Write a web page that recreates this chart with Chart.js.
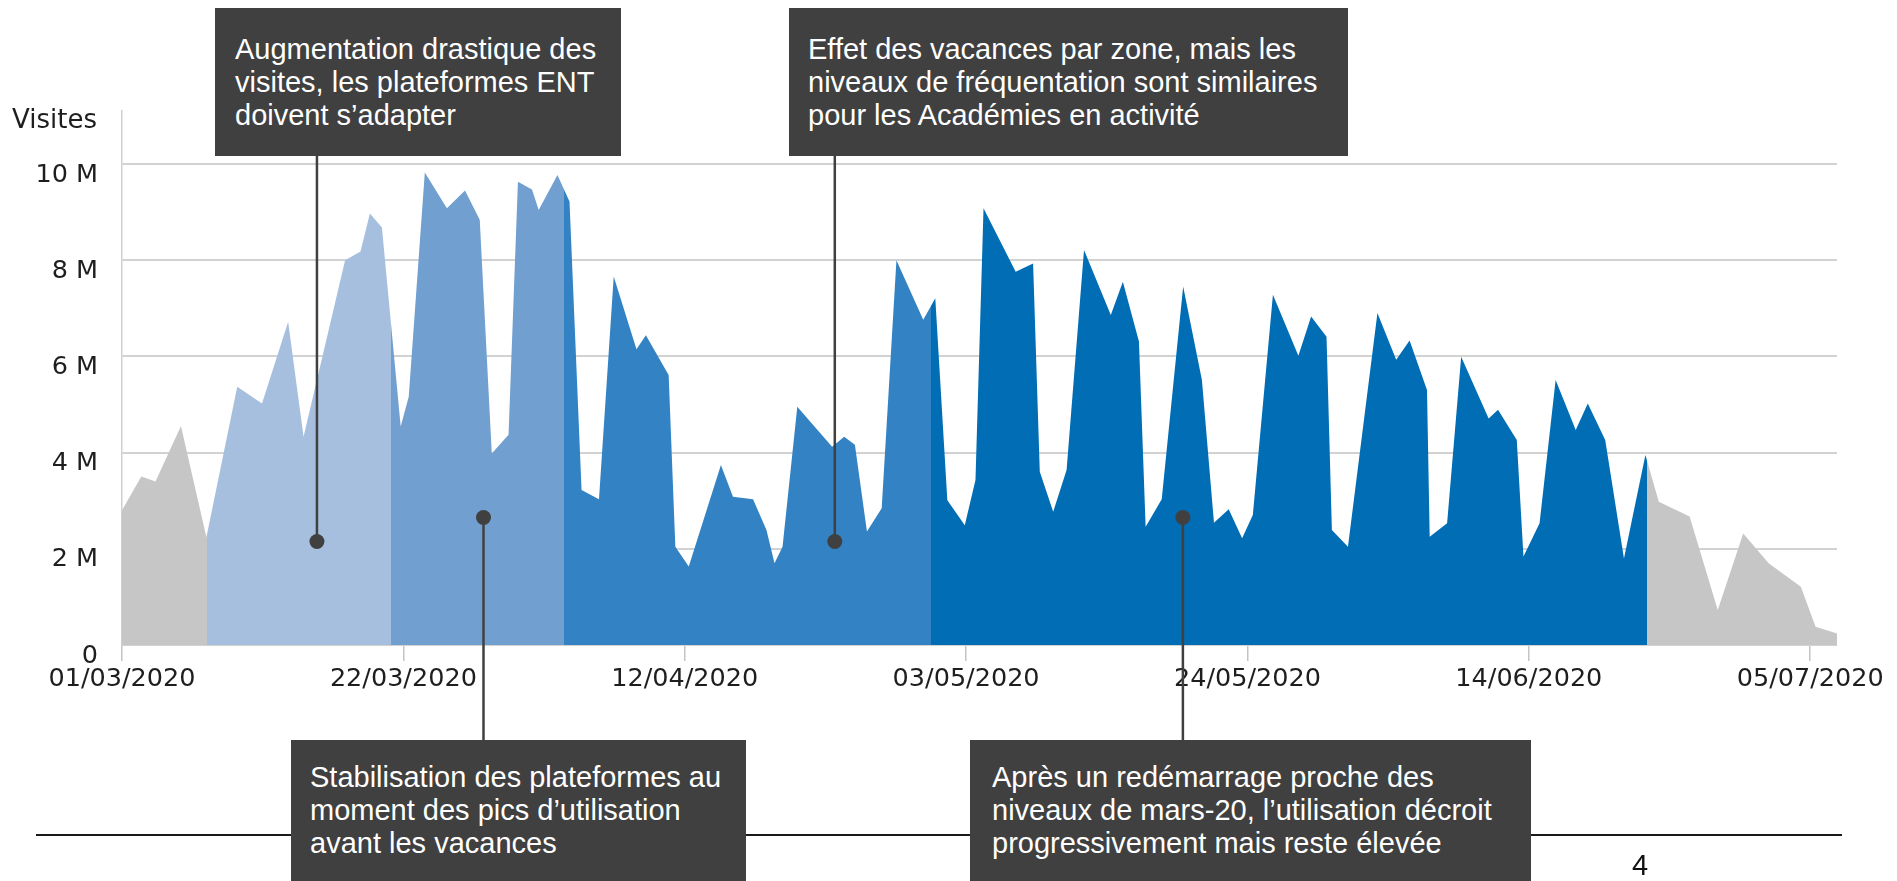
<!DOCTYPE html>
<html lang="fr">
<head>
<meta charset="utf-8">
<title>Visites ENT</title>
<script src="https://cdn.jsdelivr.net/npm/chart.js@4.4.1/dist/chart.umd.min.js"></script>
<style>
  html, body { margin: 0; padding: 0; background: #fff; }
  body { width: 1897px; height: 881px; position: relative; overflow: hidden; }
  #chart { position: absolute; left: 0; top: 0; z-index: 0; }
  .note {
    position: absolute; z-index: 2; box-sizing: border-box;
    background: #404040; color: #fff; white-space: nowrap;
    font-family: 'Liberation Sans', Arial, sans-serif; font-size: 29px; line-height: 33px;
  }
  #n1 { left: 215px; top: 8px; width: 406px; height: 148px; padding: 25px 0 0 20px; }
  #n2 { left: 789px; top: 8px; width: 559px; height: 148px; padding: 25px 0 0 19px; }
  #n3 { left: 291px; top: 740px; width: 455px; height: 160px; padding: 21px 0 0 19px; }
  #n4 { left: 970px; top: 740px; width: 561px; height: 160px; padding: 21px 0 0 22px; }
  #ytitle {
    position: absolute; left: 12px; top: 106px; z-index: 1;
    font-family: 'DejaVu Sans', sans-serif; font-size: 26px; line-height: 1; color: #1e1e1e;
  }
  #rule { position: absolute; left: 36px; top: 834px; width: 1806px; height: 2px; background: #1a1a1a; z-index: 1; }
  #page {
    position: absolute; left: 1632px; top: 851px; z-index: 1;
    font-family: 'Liberation Sans', Arial, sans-serif; font-size: 29px; line-height: 1; color: #111;
  }
</style>
</head>
<body>
<canvas id="chart" width="1897" height="881"></canvas>
<div id="ytitle">Visites</div>
<div id="rule"></div>
<div class="note" id="n1">Augmentation drastique des<br>visites, les plateformes ENT<br>doivent s’adapter</div>
<div class="note" id="n2">Effet des vacances par zone, mais les<br>niveaux de fréquentation sont similaires<br>pour les Académies en activité</div>
<div class="note" id="n3">Stabilisation des plateformes au<br>moment des pics d’utilisation<br>avant les vacances</div>
<div class="note" id="n4">Après un redémarrage proche des<br>niveaux de mars-20, l’utilisation décroit<br>progressivement mais reste élevée</div>
<div id="page">4</div>
<script>
// days since 01/03/2020 at each kink of the outline
const days = [
  0, 1.44, 2.5, 4.4, 6.3,
  8.6, 10.45, 12.4, 13.55, 16.65, 17.8, 18.5, 19.4, 20.8,
  21.4, 22.6, 24.25, 25.6, 26.7, 27.6, 28.85, 29.55, 30.6, 31.1, 32.5, 33.4,
  34.3, 35.6, 36.7, 38.4, 39.1, 40.8, 41.3, 42.3, 44.7, 45.6, 47.1, 48.1, 48.7, 49.3,
  50.4, 53.0, 53.9, 54.7, 55.6, 56.7, 57.8, 59.8, 60.7,
  61.6, 62.9, 63.7, 64.3, 66.7, 68.0, 68.5, 69.5, 70.5, 71.8, 73.8, 74.7, 75.9, 76.4,
  77.6, 79.2, 80.6, 81.5, 82.6, 83.6, 84.4, 85.9, 87.8, 88.75, 89.9, 90.3, 91.5,
  93.7, 95.1, 96.1, 97.4, 97.6, 98.9, 99.95, 102.0, 102.7, 104.1, 104.6, 105.8,
  107.0, 108.5, 109.4, 110.7, 112.1, 113.7,
  114.7, 117.0, 119.1, 121.0, 122.9, 125.3, 126.4, 128.0
];
// visits, in millions
const visits = [
  2.80, 3.50, 3.40, 4.55, 2.24,
  5.37, 5.02, 6.72, 4.33, 8.00, 8.18, 8.97, 8.68, 4.54,
  5.16, 9.82, 9.08, 9.45, 8.84, 3.98, 4.37, 9.63, 9.47, 9.04, 9.77, 9.22,
  3.22, 3.03, 7.66, 6.15, 6.44, 5.61, 2.04, 1.63, 3.74, 3.08, 3.03, 2.39, 1.70, 2.04,
  4.95, 4.12, 4.33, 4.16, 2.36, 2.84, 8.00, 6.76, 7.21,
  3.01, 2.49, 3.43, 9.08, 7.76, 7.93, 3.60, 2.77, 3.64, 8.21, 6.86, 7.55, 6.31, 2.46,
  3.03, 7.45, 5.51, 2.54, 2.82, 2.22, 2.70, 7.28, 6.01, 6.83, 6.41, 2.39, 2.04,
  6.90, 5.93, 6.33, 5.30, 2.25, 2.53, 5.99, 4.71, 4.89, 4.26, 1.84, 2.53,
  5.51, 4.47, 5.02, 4.26, 1.80, 3.95,
  2.98, 2.67, 0.73, 2.32, 1.70, 1.21, 0.38, 0.24
];
const tickDays = [0, 21, 42, 63, 84, 105, 126];
const tickLabels = ['01/03/2020', '22/03/2020', '12/04/2020', '03/05/2020', '24/05/2020', '14/06/2020', '05/07/2020'];
const yTicks = [0, 2, 4, 6, 8, 10];
// periods (end day of each coloured section)
const sectionEnds = [6.35, 20.1, 33.0, 60.4, 113.8];
// annotation anchors
const noteDays = [14.55, 26.98, 53.2, 79.18];
const noteValues = [2.15, 2.65, 2.15, 2.65];
const noteIds = ['n1', 'n3', 'n2', 'n4'];

const sectionColors = ['#c6c6c6', '#a7bfdf', '#709fd0', '#3383c4', '#006db4', '#c6c6c6'];

function sectionFill(context) {
    const chart = context.chart;
    const area = chart.chartArea;
    if (!area) return sectionColors[0];
    const xs = chart.scales.x;
    const w = area.right - area.left;
    const g = chart.ctx.createLinearGradient(area.left, 0, area.right, 0);
    let prev = 0;
    sectionEnds.forEach((end, i) => {
        const p = Math.min(Math.max((xs.getPixelForValue(end) - area.left) / w, 0), 1);
        g.addColorStop(prev, sectionColors[i]);
        g.addColorStop(p, sectionColors[i]);
        prev = p;
    });
    const last = sectionColors[sectionColors.length - 1];
    g.addColorStop(prev, last);
    g.addColorStop(1, last);
    return g;
}

function boxEdge(id) {
    const el = document.getElementById(id);
    return el.offsetTop > 400 ? el.offsetTop : el.offsetTop + el.offsetHeight;
}

const leaderPlugin = {
    id: 'leaders',
    afterDatasetsDraw(chart) {
        const { ctx, scales: { x, y } } = chart;
        ctx.save();
        ctx.strokeStyle = '#404040';
        ctx.fillStyle = '#404040';
        ctx.lineWidth = 2.5;
        noteDays.forEach((d, i) => {
            const px = x.getPixelForValue(d);
            const py = y.getPixelForValue(noteValues[i]);
            ctx.beginPath();
            ctx.moveTo(px, py);
            ctx.lineTo(px, boxEdge(noteIds[i]));
            ctx.stroke();
            ctx.beginPath();
            ctx.arc(px, py, 7.5, 0, Math.PI * 2);
            ctx.fill();
        });
        ctx.restore();
    }
};

Chart.defaults.font.family = "'DejaVu Sans', sans-serif";

new Chart(document.getElementById('chart').getContext('2d'), {
    type: 'line',
    data: {
        datasets: [{
            data: days.map((d, i) => ({ x: d, y: visits[i] })),
            fill: 'origin',
            backgroundColor: sectionFill,
            borderColor: 'rgba(0,0,0,0)',
            borderWidth: 0,
            pointRadius: 0,
            tension: 0
        }]
    },
    options: {
        responsive: false,
        animation: false,
        devicePixelRatio: 1,
        events: [],
        layout: { padding: { left: 0, top: 111, right: 60, bottom: 176 } },
        plugins: { legend: { display: false }, tooltip: { enabled: false } },
        scales: {
            x: {
                type: 'linear',
                min: 0,
                max: 128,
                afterFit: s => { s.height = 60; },
                afterBuildTicks: s => { s.ticks = tickDays.map(v => ({ value: v })); },
                grid: { drawOnChartArea: false, drawTicks: true, tickLength: 16, color: '#c4c4c4', lineWidth: 1.5 },
                border: { display: false },
                ticks: {
                    padding: 3,
                    maxRotation: 0,
                    autoSkip: false,
                    color: '#1e1e1e',
                    font: { size: 25.5 },
                    callback: v => { const i = tickDays.indexOf(v); return i >= 0 ? tickLabels[i] : ''; }
                }
            },
            y: {
                min: 0,
                max: 11.1,
                afterFit: s => { s.width = 122; },
                afterBuildTicks: s => { s.ticks = yTicks.map(v => ({ value: v })); },
                grid: { drawTicks: false, color: '#d2d2d2', lineWidth: 2 },
                border: { display: true, color: '#cfcfcf', width: 1.5 },
                ticks: {
                    padding: 24,
                    labelOffset: 11,
                    color: '#1e1e1e',
                    font: { size: 25.5 },
                    callback: v => v === 0 ? '0' : v + ' M'
                }
            }
        }
    },
    plugins: [leaderPlugin]
});
</script>
</body>
</html>
